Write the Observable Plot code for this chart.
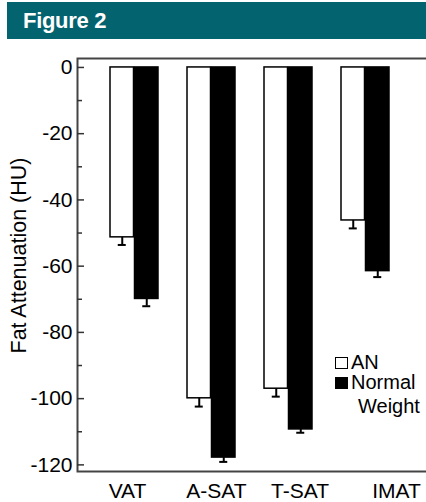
<!DOCTYPE html>
<html>
<head>
<meta charset="utf-8">
<script src="https://cdn.jsdelivr.net/npm/d3@7"></script>
<script src="https://cdn.jsdelivr.net/npm/@observablehq/plot@0.6"></script>
<style>
  html, body { margin: 0; padding: 0; background: #fff; }
  body { position: relative; width: 426px; height: 502px; overflow: hidden; font-family: "Liberation Sans", Arial, Helvetica, sans-serif; }
  #header { position: absolute; left: 7px; top: 2px; width: 419px; height: 37px; background: #03636e; }
  #header span { position: absolute; left: 16px; top: 8px; color: #fff; font-weight: bold; font-size: 22px; line-height: 22px; letter-spacing: -0.3px; font-family: "Liberation Sans", Arial, sans-serif; }
  #chart { position: absolute; left: 0; top: 0; }
  .lg { position: absolute; font-size: 20px; line-height: 20px; color: #000; white-space: nowrap; }
  .sw { position: absolute; box-sizing: border-box; width: 13px; height: 12px; border: 1.5px solid #000; }
</style>
</head>
<body>
<div id="header"><span>Figure 2</span></div>
<div id="chart"></div>
<div class="sw" style="left:335px; top:357px; background:#fff;"></div>
<div class="lg" style="left:351px; top:352px;">AN</div>
<div class="sw" style="left:335px; top:377px; background:#000;"></div>
<div class="lg" style="left:351px; top:372px;">Normal</div>
<div class="lg" style="left:358px; top:396px;">Weight</div>
<script>
// ---- data ----
const categories = ["VAT", "A-SAT", "T-SAT", "IMAT"];
const groups = ["AN", "Normal Weight"];
const anMean = [-51.3, -99.9, -97.0, -46.2];
const anSE = [2.3, 2.5, 2.4, 2.4];
const nwMean = [-69.9, -117.8, -109.3, -61.5];
const nwSE = [2.2, 1.3, 1.0, 1.8];
const yMajorTicks = [0, -20, -40, -60, -80, -100, -120];
const yMinorTicks = [-10, -30, -50, -70, -90, -110];
const yLabel = "Fat Attenuation (HU)";

const anData = categories.map((c, i) => ({cat: c, group: groups[0], mean: anMean[i], lo: anMean[i] - anSE[i]}));
const nwData = categories.map((c, i) => ({cat: c, group: groups[1], mean: nwMean[i], lo: nwMean[i] - nwSE[i]}));

const labelShift = [-7, 5, 11.5, 31];
const font = "'Liberation Sans', Arial, Helvetica, sans-serif";

const chart = Plot.plot({
  width: 426,
  height: 502,
  marginTop: 58,
  marginBottom: 31,
  marginLeft: 77,
  marginRight: 0,
  style: {fontFamily: font, fontSize: "21px", color: "#000", background: "transparent", overflow: "visible"},
  x: {type: "band", domain: categories, paddingInner: 0.37179, paddingOuter: 0.42308, align: 0.4697, axis: null},
  y: {domain: [-122, 2.7], label: null},
  marks: [
    Plot.barY(anData, {x: "cat", y1: 0, y2: "mean", fill: "#fff", stroke: "#000", strokeWidth: 1.5, insetRight: 24.5}),
    Plot.barY(nwData, {x: "cat", y1: 0, y2: "mean", fill: "#000", stroke: "#000", strokeWidth: 1.5, insetLeft: 24.5}),
    Plot.ruleX(anData, {x: "cat", y1: "mean", y2: "lo", stroke: "#000", strokeWidth: 2, dx: -12.25}),
    Plot.ruleX(nwData, {x: "cat", y1: "mean", y2: "lo", stroke: "#000", strokeWidth: 2, dx: 12.25}),
    Plot.tickY(anData, {x: "cat", y: "lo", stroke: "#000", strokeWidth: 2, insetLeft: 7.75, insetRight: 32.25}),
    Plot.tickY(nwData, {x: "cat", y: "lo", stroke: "#000", strokeWidth: 2, insetLeft: 32.25, insetRight: 7.75}),
    Plot.frame({stroke: "#444", strokeWidth: 2, insetRight: -4}),
    Plot.axisY(yMajorTicks, {tickSize: -7, tickPadding: 12, strokeWidth: 1.5, stroke: "#333", fontSize: 21, fill: "#000", label: null, tickFormat: d => String(d)}),
    Plot.axisY(yMinorTicks, {tickSize: -5, tickFormat: () => "", strokeWidth: 1.5, stroke: "#333", label: null}),
    ...categories.map((c, i) => Plot.text([c], {x: d => d, frameAnchor: "bottom", lineAnchor: "top", dy: 12, dx: labelShift[i], fontSize: 21, fill: "#000"})),
    Plot.text([yLabel], {frameAnchor: "left", rotate: -90, lineAnchor: "bottom", textAnchor: "middle", dx: -52, dy: -9.5, fontSize: 21.5, fill: "#000"})
  ]
});
document.getElementById("chart").appendChild(chart);
</script>
</body>
</html>
